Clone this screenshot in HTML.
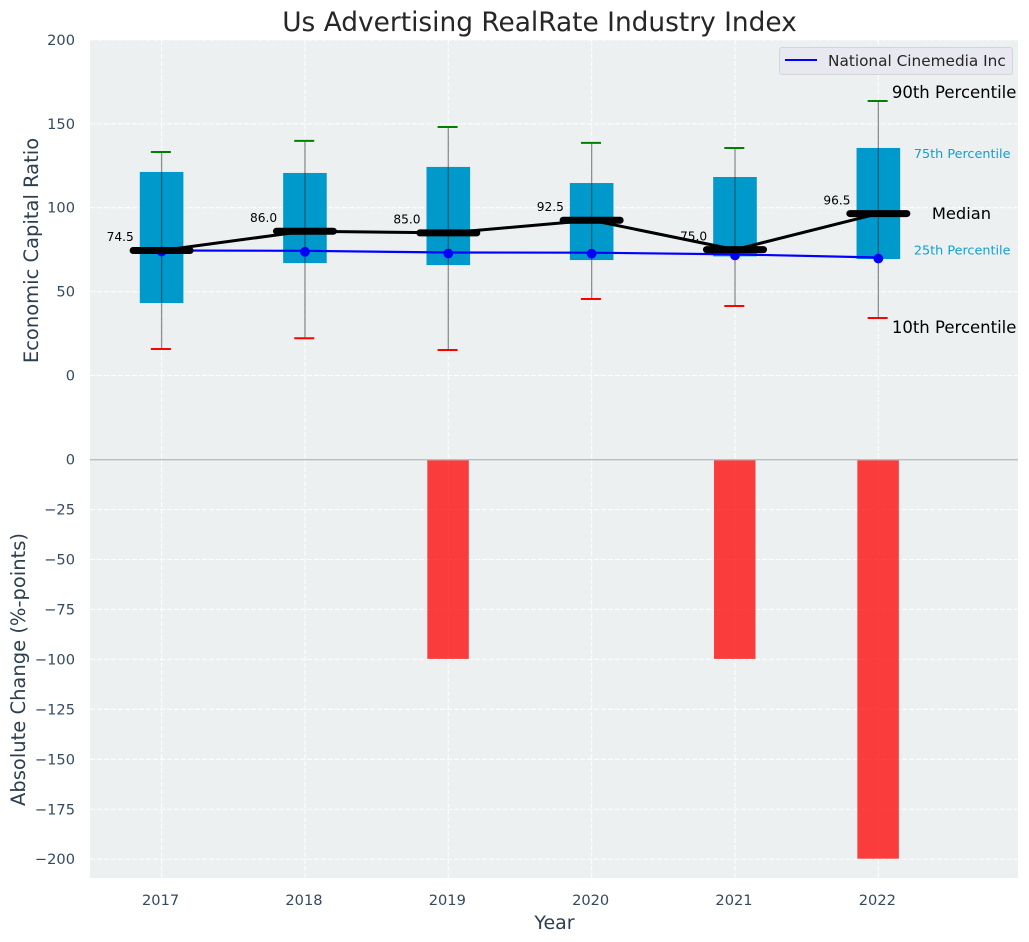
<!DOCTYPE html>
<html>
<head>
<meta charset="utf-8">
<title>Us Advertising RealRate Industry Index</title>
<style>
html,body{margin:0;padding:0;background:#fff;}
svg{display:block;font-family:"DejaVu Sans","Liberation Sans",sans-serif;}
</style>
</head>
<body>
<svg id="chart" xmlns="http://www.w3.org/2000/svg" width="1029" height="942" viewBox="0 0 1029 942">
<rect x="90" y="40" width="928" height="420" fill="#ecf0f1"/>
<rect x="90" y="460" width="928" height="418" fill="#ecf0f1"/>
<g id="grid"></g>
<g id="marks"></g>
<g id="ticks"></g>
<text x="539.5" y="31" text-anchor="middle" font-size="26.4" fill="#262626">Us Advertising RealRate Industry Index</text>
<text transform="translate(38,250.5) rotate(-90)" text-anchor="middle" font-size="19.5" fill="#2c3e50">Economic Capital Ratio</text>
<text transform="translate(25,669.5) rotate(-90)" text-anchor="middle" font-size="19.5" fill="#2c3e50">Absolute Change (%-points)</text>
<text x="554.5" y="929" text-anchor="middle" font-size="19" fill="#2c3e50">Year</text>
<g>
<rect x="779.5" y="47.5" width="233" height="27" rx="2.5" fill="#e8e9f0" stroke="#d4d5d8" stroke-width="1"/>
<line x1="785" y1="60" x2="817" y2="60" stroke="#0000ff" stroke-width="2"/>
<text x="828" y="66" font-size="15.3" fill="#262626">National Cinemedia Inc</text>
</g>
<script>
const categories = [2017, 2018, 2019, 2020, 2021, 2022];
const p10 = [15.8, 22.2, 15.2, 45.6, 41.4, 34.3];
const p25 = [43.2, 67.0, 65.8, 68.8, 71.0, 69.4];
const medians = [74.5, 86.0, 85.0, 92.5, 75.0, 96.5];
const p75 = [121.3, 120.7, 124.3, 114.7, 118.3, 135.6];
const p90 = [133.2, 139.8, 148.1, 138.6, 135.6, 163.6];
const company = [74.5, 74.3, 73.3, 73.2, 72.2, 70.3];
const changes = [0, 0, -100, 0, -100, -200];
const topTicks = [200, 150, 100, 50, 0];
const bottomTicks = [0, -25, -50, -75, -100, -125, -150, -175, -200];

const NS = 'http://www.w3.org/2000/svg';
const xScale = function (year) { return 161.6 + (year - 2017) * 143.35; };
const yTop = function (v) { return 375.5 - v * 1.678; };
const yBottom = function (v) { return 459.6 - v * 1.998; };
const gridLayer = document.getElementById('grid');
const marksLayer = document.getElementById('marks');
const ticksLayer = document.getElementById('ticks');

function make(parent, tag, props, content) {
  const node = document.createElementNS(NS, tag);
  Object.keys(props).forEach(function (k) { node.setAttribute(k, props[k]); });
  if (content !== undefined) node.textContent = content;
  parent.appendChild(node);
  return node;
}

const gridStyle = { stroke: '#ffffff', 'stroke-width': 1.1, 'stroke-dasharray': '5,2', 'stroke-opacity': 0.9 };

categories.forEach(function (year) {
  const el = make(gridLayer, 'line', Object.assign({ x1: xScale(year), x2: xScale(year), y1: 40, y2: 878 }, gridStyle));
  
  
  const label = make(ticksLayer, 'text', { x: xScale(year) - 1, y: 905, 'text-anchor': 'middle', 'font-size': 14.6, fill: '#34495e' }, String(year));
  
  
});

topTicks.forEach(function (v) {
  const el = make(gridLayer, 'line', Object.assign({ x1: 90, x2: 1018, y1: yTop(v), y2: yTop(v) }, gridStyle));
  
  
  const label = make(ticksLayer, 'text', { x: 75, y: yTop(v) + 5, 'text-anchor': 'end', 'font-size': 14.6, fill: '#34495e' }, String(v));
  
  
});

bottomTicks.forEach(function (v) {
  const el = make(gridLayer, 'line', Object.assign({ x1: 90, x2: 1018, y1: yBottom(v), y2: yBottom(v) }, gridStyle));
  
  
  const text = v < 0 ? '\u2212' + Math.abs(v) : String(v);
  const label = make(ticksLayer, 'text', { x: 75, y: yBottom(v) + 5, 'text-anchor': 'end', 'font-size': 14.6, fill: '#34495e' }, text);
  
  
});

/* change bars */
categories.forEach(function (year, i) {
  if (changes[i] === 0) return;
  const y0 = yBottom(0);
  const y1 = yBottom(changes[i]);
  const el = make(marksLayer, 'rect', { x: xScale(year) - 21, y: y0, width: 41.5, height: y1 - y0 - 0.5, fill: '#ff0000', 'fill-opacity': 0.75 });
  
  
});

/* zero line of the lower panel */
const zeroLine = make(marksLayer, 'line', { x1: 90, x2: 1018, y1: 459.7, y2: 459.7, stroke: '#bdbdbd', 'stroke-width': 1.4 });



/* percentile boxes */
categories.forEach(function (year, i) {
  const yHigh = yTop(p75[i]);
  const yLow = yTop(p25[i]);
  const el = make(marksLayer, 'rect', { x: xScale(year) - 21.8, y: yHigh, width: 43.6, height: yLow - yHigh, fill: '#0099cc' });
  
  
});

/* whiskers and caps */
categories.forEach(function (year, i) {
  const x = xScale(year);
  const whisker = make(marksLayer, 'line', { x1: x, x2: x, y1: yTop(p90[i]), y2: yTop(p10[i]), stroke: '#262626', 'stroke-opacity': 0.5, 'stroke-width': 1.3 });
  
  
  const capHigh = make(marksLayer, 'line', { x1: x - 10.7, x2: x + 9.3, y1: yTop(p90[i]), y2: yTop(p90[i]), stroke: '#008000', 'stroke-width': 2 });
  
  
  const capLow = make(marksLayer, 'line', { x1: x - 10.7, x2: x + 9.3, y1: yTop(p10[i]), y2: yTop(p10[i]), stroke: '#ff0000', 'stroke-width': 2 });
  
  
});

/* company line and points */
const companyPts = categories.map(function (year, i) { return xScale(year) + ',' + yTop(company[i]); }).join(' ');
const companyLine = make(marksLayer, 'polyline', { points: companyPts, fill: 'none', stroke: '#0000ff', 'stroke-width': 2.2 });


categories.forEach(function (year, i) {
  const dot = make(marksLayer, 'circle', { cx: xScale(year), cy: yTop(company[i]) + 1, r: 4.9, fill: '#0000ff' });
  
  
});

/* median line and bars */
const medianPts = categories.map(function (year, i) { return xScale(year) + ',' + yTop(medians[i]); }).join(' ');
const medianLine = make(marksLayer, 'polyline', { points: medianPts, fill: 'none', stroke: '#000000', 'stroke-width': 3 });


categories.forEach(function (year, i) {
  const x = xScale(year);
  const y = yTop(medians[i]);
  const bar = make(marksLayer, 'line', { x1: x - 28.5, x2: x + 28.5, y1: y, y2: y, stroke: '#000000', 'stroke-width': 7, 'stroke-linecap': 'round' });
  
  
  const label = make(marksLayer, 'text', { x: x - 27.8, y: y - 9.3, 'text-anchor': 'end', 'font-size': 12.2, fill: '#000000' }, medians[i].toFixed(1));
  
  
});

/* percentile annotations beside the last year */
const lastIndex = categories.length - 1;
const lastX = xScale(categories[lastIndex]);

const note90 = make(marksLayer, 'text', { x: lastX + 13.5, y: yTop(p90[lastIndex]) - 3, 'font-size': 16.5, fill: '#000000' }, '90th Percentile');



const note75 = make(marksLayer, 'text', { x: lastX + 35.5, y: yTop(p75[lastIndex]) + 10, 'font-size': 12.8, fill: '#0f9fd2' }, '75th Percentile');



const noteMedian = make(marksLayer, 'text', { x: lastX + 53.5, y: yTop(medians[lastIndex]) + 5.5, 'font-size': 16.3, fill: '#000000' }, 'Median');



const note25 = make(marksLayer, 'text', { x: lastX + 35.5, y: yTop(p25[lastIndex]) - 4.5, 'font-size': 12.8, fill: '#0f9fd2' }, '25th Percentile');



const note10 = make(marksLayer, 'text', { x: lastX + 13.5, y: yTop(p10[lastIndex]) + 15, 'font-size': 16.5, fill: '#000000' }, '10th Percentile');


</script>
</svg>
</body>
</html>
